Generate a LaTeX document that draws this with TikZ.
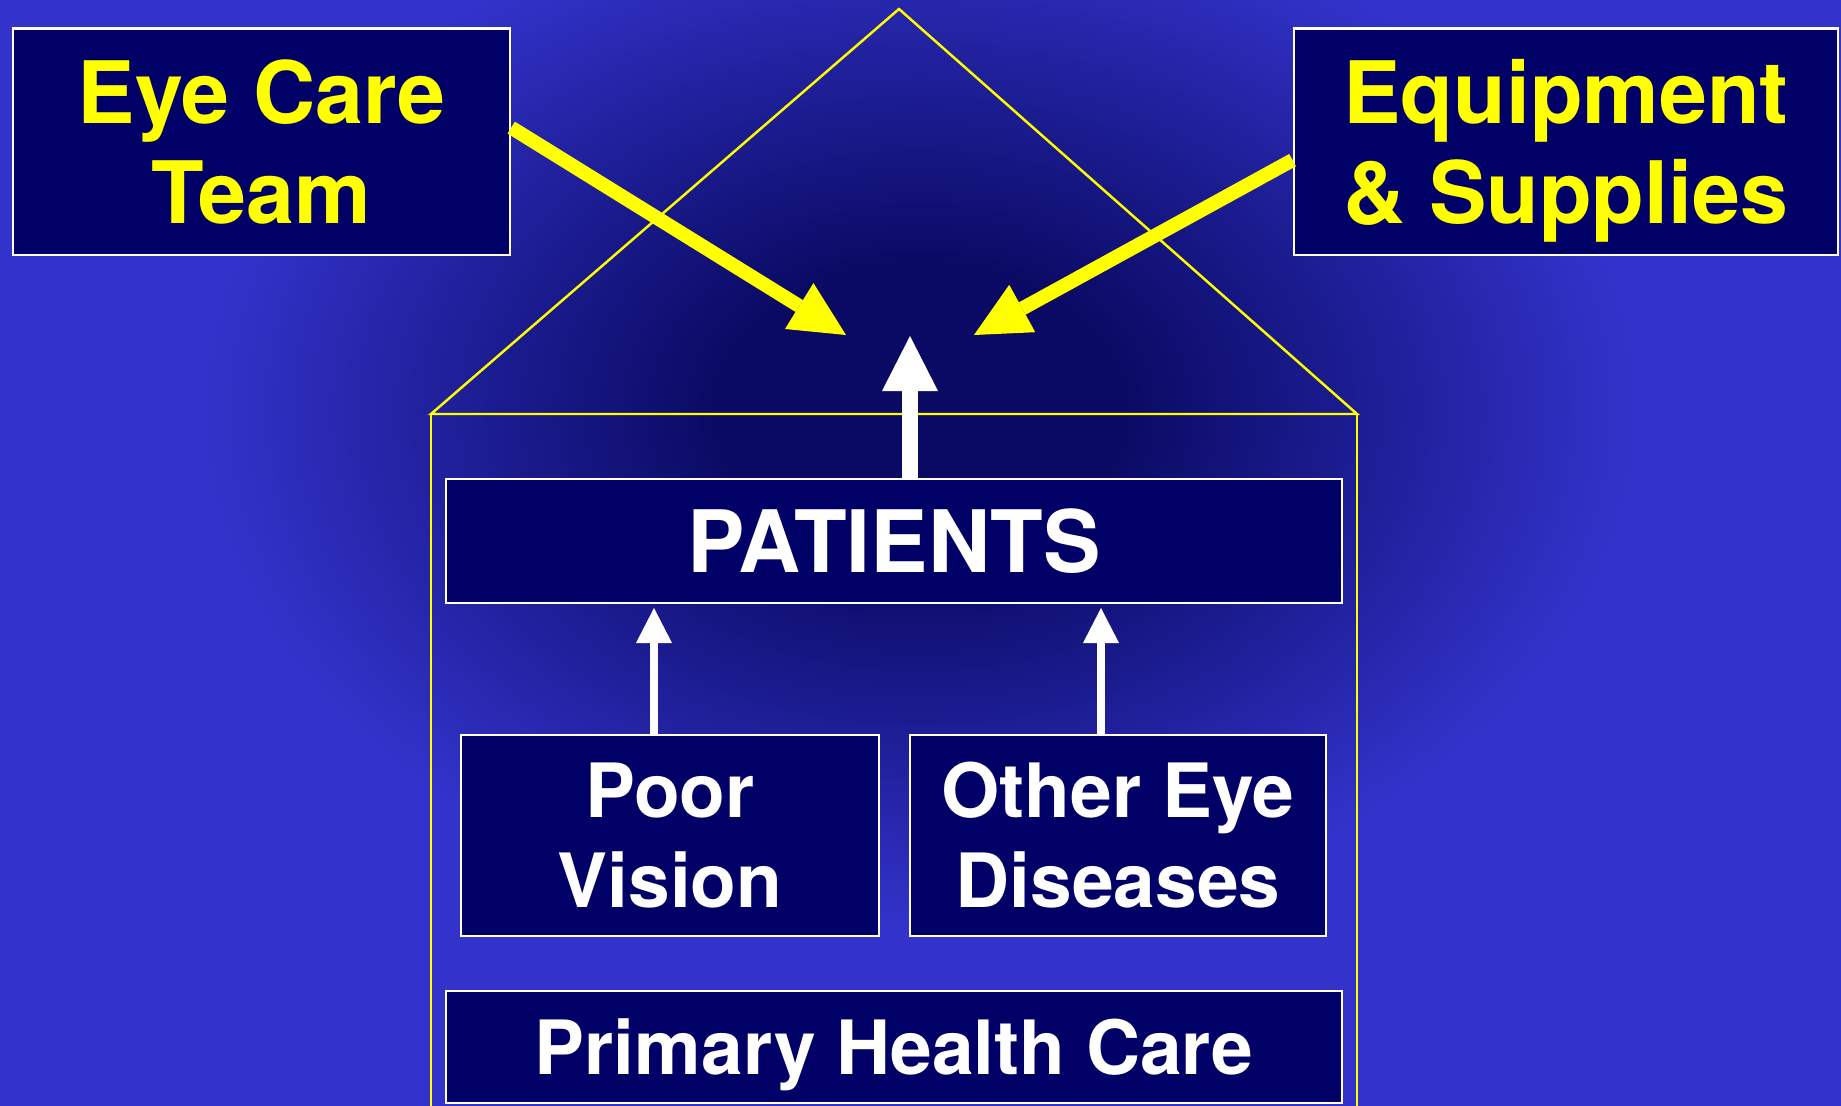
\documentclass[tikz,border=0pt]{standalone}
\usepackage{fontspec}
\setmainfont{TeX Gyre Heros}
\usetikzlibrary{arrows.meta}

\definecolor{bgblue}{RGB}{51,51,204}
\definecolor{boxnavy}{RGB}{0,0,102}
\definecolor{glownavy}{RGB}{10,10,100}
\definecolor{signyellow}{RGB}{255,255,0}
\pgfdeclareradialshading{houseglow}{\pgfpoint{0bp}{0bp}}{color(0bp)=(glownavy); color(7bp)=(glownavy); color(25bp)=(bgblue); color(50bp)=(bgblue)}

\begin{document}
\begin{tikzpicture}[x=0.01cm, y=-0.01cm,
    box/.style={draw=white, line width=0.6pt, fill=boxnavy, align=center, inner sep=0pt},
    bigtext/.style={font=\bfseries\fontsize{24.5}{28.5}\selectfont},
    smalltext/.style={font=\bfseries\fontsize{21.3}{25.6}\selectfont},
    roof/.style={draw=signyellow, line width=0.7pt},
    yarrow/.style={draw=signyellow, line width=0.14cm, -{Triangle[width=0.54cm, length=0.55cm, line width=0pt]}},
    uparrow/.style={draw=white, line width=0.16cm, -{Triangle[width=0.56cm, length=0.55cm, line width=0pt]}},
    thinarrow/.style={draw=white, line width=0.075cm, -{Triangle[width=0.36cm, length=0.35cm, line width=0pt]}}]

    % background
    \useasboundingbox (0,0) rectangle (1841,1106);
    \fill[bgblue] (0,0) rectangle (1841,1106);
    \begin{scope}
        \clip (0,0) rectangle (1841,1106);
        \shade[shading=houseglow] (920,410) ellipse [x radius=7.2cm, y radius=5.2cm];
    \end{scope}

    % house outline
    \coordinate (apex) at (899,9);
    \coordinate (eaveL) at (431,414);
    \coordinate (eaveR) at (1357,414);
    \coordinate (footL) at (431,1110);
    \coordinate (footR) at (1357,1110);
    \draw[roof] (eaveL) -- (apex) -- (eaveR) -- cycle;
    \draw[roof] (eaveL) -- (footL);
    \draw[roof] (eaveR) -- (footR);

    % boxes
    \node[box, bigtext, text=signyellow, minimum width=4.97cm, minimum height=2.26cm] (team) at (261.5,141.6) {Eye Care\\Team};
    \node[box, bigtext, text=signyellow, minimum width=5.44cm, minimum height=2.26cm] (supplies) at (1565.8,141.6) {Equipment\\\smash{\& Supplies}};
    \node[box, bigtext, text=white, minimum width=8.96cm, minimum height=1.24cm] (patients) at (894,541) {PATIENTS};
    \node[box, smalltext, text=white, minimum width=4.17cm, minimum height=2.01cm] (poor) at (670,835.5) {Poor\\Vision};
    \node[box, smalltext, text=white, minimum width=4.16cm, minimum height=2.01cm] (other) at (1118,835.5) {Other Eye\\Diseases};
    \node[box, smalltext, text=white, minimum width=8.96cm, minimum height=1.12cm, text depth=0pt] (phc) at (894,1047) {Primary Health Care};

    % arrows
    \coordinate (lefttip) at (846,335);
    \coordinate (righttip) at (974,335);
    \coordinate (uptip) at (910,336);
    \coordinate (pvtip) at (654,608);
    \coordinate (oedtip) at (1101,608);
    \draw[yarrow] ([yshift=0.14cm]team.east) -- (lefttip);
    \draw[yarrow] ([yshift=-0.185cm]supplies.west) -- (righttip);
    \draw[uparrow] (uptip |- patients.north) -- (uptip);
    \draw[thinarrow] (pvtip |- poor.north) -- (pvtip);
    \draw[thinarrow] (oedtip |- other.north) -- (oedtip);

\end{tikzpicture}
\end{document}
